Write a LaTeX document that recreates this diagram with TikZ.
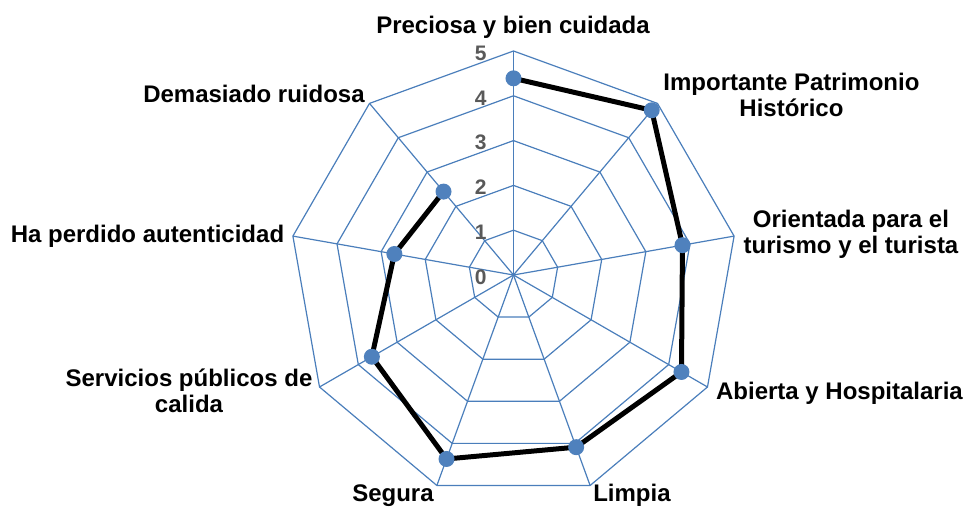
\documentclass[tikz,border=0pt]{standalone}
\usepackage{fontspec}
\setmainfont{Liberation Sans}
\usetikzlibrary{positioning}
\definecolor{gridblue}{RGB}{74,126,187}
\definecolor{dotblue}{RGB}{79,129,189}
\definecolor{tickgray}{RGB}{89,89,89}
\tikzset{
    %Define style for the web
    gridline/.style={
             draw=gridblue, line width=0.6pt},
    % Define style for the data
    seriesline/.style={
             draw=black, line width=2.5pt, line join=round},
    seriesdot/.style={
             circle, fill=dotblue,
             inner sep=0pt, minimum size=8pt},
    % Define style for texts
    axislabel/.style={
             font=\bfseries\fontsize{12}{13}\selectfont,
             align=center, inner sep=0pt, anchor=base},
    ticklabel/.style={
             font=\bfseries\fontsize{10.5}{11}\selectfont,
             text=tickgray, inner sep=0pt, anchor=east}
}

\begin{document}
\begin{tikzpicture}[x=0.5pt, y=0.5pt]
 \useasboundingbox (-513.5,-232) rectangle (451.5,275);
 \coordinate (center) at (0,0);
 % web
 \foreach \r in {1,...,5}
   \draw[gridline] (90:\r*44.8) \foreach \k in {1,...,8} { -- ({90-40*\k}:\r*44.8) } -- cycle;
 \foreach \k in {0,...,8} {
   \coordinate (spoke\k) at ({90-40*\k}:224);
   \draw[gridline] (center) -- (spoke\k);
 }
 \foreach \r in {0,...,5}
   \node[ticklabel] (tick\r) at (-26.5,{\r*44.8-2}) {\r};
 % data
 \foreach \v [count=\k from 0] in {4.39,4.80,3.83,4.33,4.09,4.37,3.65,2.70,2.43}
   \coordinate (data\k) at ({90-40*\k}:{\v*44.8});
 \draw[seriesline] (data0) -- (data1) -- (data2) -- (data3) -- (data4)
       -- (data5) -- (data6) -- (data7) -- (data8);
 \foreach \k in {0,...,8}
   \node[seriesdot] (dot\k) at (data\k) {};
 % axis names (two-line ones sit on their last line)
 \node[axislabel] (preciosa) at (-0.5,241) {Preciosa y bien cuidada};
 \node[axislabel] (importante) at (278,158) {Importante Patrimonio\\Histórico};
 \node[axislabel] (orientada) at (337.5,21) {Orientada para el\\turismo y el turista};
 \node[axislabel] (abierta) at (326,-125) {Abierta y Hospitalaria};
 \node[axislabel] (limpia) at (118.5,-227) {Limpia};
 \node[axislabel] (segura) at (-120.5,-227) {Segura};
 \node[axislabel] (servicios) at (-324.5,-138) {Servicios públicos de\\calida};
 \node[axislabel] (autentica) at (-366,32) {Ha perdido autenticidad};
 \node[axislabel] (ruidosa) at (-259.5,172) {Demasiado ruidosa};
\end{tikzpicture}
\end{document}
